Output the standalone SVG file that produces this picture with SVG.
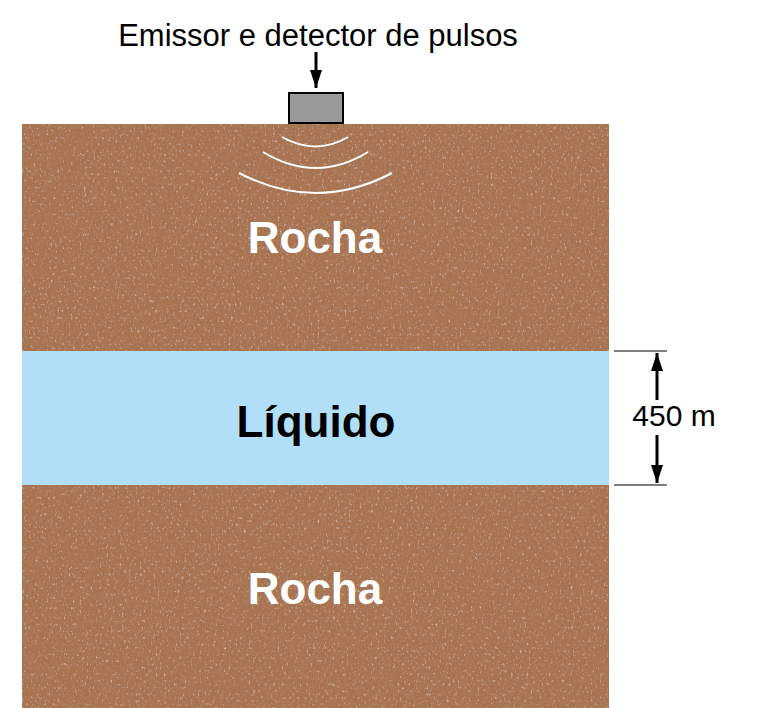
<svg xmlns="http://www.w3.org/2000/svg" width="762" height="708" viewBox="0 0 762 708">
<defs>
<filter id="rock" x="0" y="0" width="100%" height="100%">
<feTurbulence type="fractalNoise" baseFrequency="0.45 0.3" numOctaves="2" seed="3" result="n"/>
<feColorMatrix in="n" type="matrix" values="0 0 0 0 0.4  0 0 0 0 0.22  0 0 0 0 0.13  2 0 0 0 -0.85" result="dark"/>
<feColorMatrix in="n" type="matrix" values="0 0 0 0 0.85  0 0 0 0 0.7  0 0 0 0 0.6  0 -2 0 0 0.75" result="light"/>
<feMerge><feMergeNode in="SourceGraphic"/><feMergeNode in="dark"/><feMergeNode in="light"/></feMerge>
<feComposite in2="SourceGraphic" operator="in"/>
</filter>
<marker id="ah" viewBox="0 0 18 12" refX="18" refY="6" markerWidth="18" markerHeight="12" markerUnits="userSpaceOnUse" orient="auto"><path d="M0,0 L18,6 L0,12 z" fill="#000"/></marker>
<style>
.t{font-family:"Liberation Sans",Arial,sans-serif}
.w{fill:none;stroke:#fff;stroke-width:2}
.k{stroke:#000;stroke-width:3}
</style>
</defs>
<g id="ground">
<rect x="22" y="124" width="587" height="584" fill="#a8724f" filter="url(#rock)"/>
<rect x="22" y="351" width="587" height="134" fill="#b0dff7"/>
</g>
<g id="waves">
<path class="w" d="M282,137 Q316,156 348,137"/>
<path class="w" d="M263,152 Q316,184 368,152"/>
<path class="w" d="M239,173 Q316,213 392,173"/>
</g>
<g id="device">
<rect x="289" y="93" width="54" height="30" fill="#9a9a9a" stroke="#000" stroke-width="2"/>
<text class="t" x="318" y="46" font-size="31" text-anchor="middle">Emissor e detector de pulsos</text>
</g>
<g id="labels">
<text class="t" x="315" y="253" font-size="44" font-weight="bold" fill="#fff" text-anchor="middle">Rocha</text>
<text class="t" x="316" y="437" font-size="44" font-weight="bold" fill="#000" text-anchor="middle">Líquido</text>
<text class="t" x="315" y="604" font-size="44" font-weight="bold" fill="#fff" text-anchor="middle">Rocha</text>
<text class="t" x="674" y="426" font-size="30" text-anchor="middle">450 m</text>
</g>
<g id="connectors">
<line class="k" x1="316" y1="52" x2="316" y2="88" marker-end="url(#ah)"/>
<line x1="614" y1="351" x2="667" y2="351" stroke="#000" stroke-width="1"/>
<line x1="614" y1="485" x2="667" y2="485" stroke="#000" stroke-width="1"/>
<line class="k" x1="657" y1="400" x2="657" y2="353" marker-end="url(#ah)"/>
<line class="k" x1="657" y1="435" x2="657" y2="483" marker-end="url(#ah)"/>
</g>
</svg>
